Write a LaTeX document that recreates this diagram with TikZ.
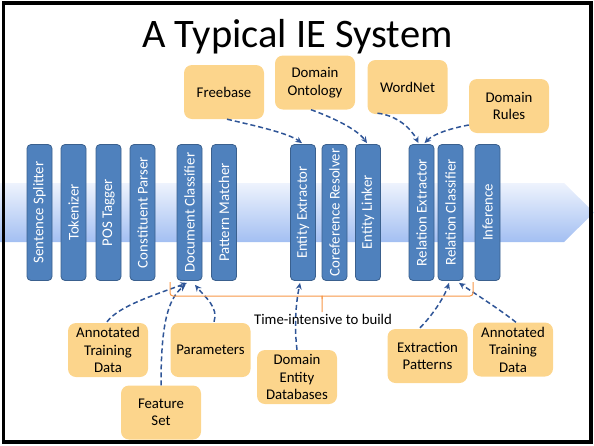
\documentclass[tikz,border=0pt]{standalone}
\usepackage{fontspec}
\setmainfont{Carlito}
\usetikzlibrary{calc,arrows.meta}

\definecolor{stageblue}{RGB}{79,129,189}
\definecolor{stageedge}{RGB}{58,96,142}
\definecolor{resfill}{RGB}{252,213,140}
\definecolor{linkblue}{RGB}{47,85,151}
\definecolor{braceorange}{RGB}{247,150,70}
\definecolor{bandtop}{RGB}{238,243,253}
\definecolor{bandbot}{RGB}{163,191,242}

\begin{document}
\begin{tikzpicture}[x=1pt,y=-1pt,
  stage/.style={draw=stageedge, line width=0.8pt, fill=stageblue, rounded corners=4pt,
    rotate=90, minimum width=136pt, minimum height=25pt, inner sep=0pt,
    text=white, font=\fontsize{14.8}{17}\selectfont},
  resource/.style={fill=resfill, rounded corners=8pt, minimum width=80pt,
    minimum height=54pt, inner sep=0pt, align=center,
    font=\fontsize{14.8}{17.5}\selectfont},
  link/.style={draw=linkblue, line width=1.5pt, dash pattern=on 5pt off 3pt,
    -{Stealth[length=6.5pt,width=6pt]}},
  bracestyle/.style={draw=braceorange, line width=1pt, rounded corners=3pt},
]
\useasboundingbox (0,0) rectangle (594,445);

% pipeline band with arrow head
\shade[top color=bandtop, bottom color=bandbot]
  (0,183) -- (564,183) -- (594,212.5) -- (564,242) -- (0,242) -- cycle;

% slide frame
\draw[line width=3.5pt] (3.5,3) rectangle (591,442);

% title
\node[font=\fontsize{40.5}{48}\selectfont, anchor=base] (title) at (297.5,47) {A Typical IE System};

% processing stages
\node[stage] (ss)  at (39.5,212.5)  {Sentence Splitter};
\node[stage] (tok) at (73.5,212.5)  {Tokenizer};
\node[stage] (pos) at (108.5,212.5) {POS Tagger};
\node[stage] (cp)  at (142.5,212.5) {Constituent Parser};
\node[stage] (dc)  at (189.5,212.5) {Document Classifier};
\node[stage] (pm)  at (224,212.5)   {Pattern Matcher};
\node[stage] (ee)  at (303,212.5)   {Entity Extractor};
\node[stage] (cr)  at (334.5,212.5) {Coreference Resolver};
\node[stage] (el)  at (368,212.5)   {Entity Linker};
\node[stage] (re)  at (421.5,212.5) {Relation Extractor};
\node[stage] (rc)  at (450.5,212.5) {Relation Classifier};
\node[stage] (inf) at (487.5,212.5) {Inference};

% external resources
\node[resource] (fb)    at (224,92)    {Freebase};
\node[resource] (onto)  at (315,82.5)  {Domain\\Ontology};
\node[resource] (wn)    at (407.5,87)  {WordNet};
\node[resource] (rules) at (509,106)   {Domain\\Rules};
\node[resource] (atda)  at (108,350)   {Annotated\\Training\\Data};
\node[resource] (par)   at (210.5,350) {Parameters};
\node[resource] (feat)  at (161,412.5) {Feature\\Set};
\node[resource] (ded)   at (297,377)   {Domain\\Entity\\Databases};
\node[resource] (ep)    at (427.5,356) {Extraction\\Patterns};
\node[resource] (atdb)  at (513,349.5) {Annotated\\Training\\Data};

% resources feeding the stages from above
\draw[link] ($(fb.south)+(3,0)$) .. controls +(30,7) and +(-14,-10) .. ($(ee.east)+(-1,-1)$);
\draw[link] ($(onto.south)+(-4,0)$) .. controls +(22,8) and +(-10,-14) .. ($(el.east)+(-1,-1)$);
\draw[link] ($(wn.south)+(-30,-1)$) .. controls +(18,2) and +(-8,-16) .. ($(re.east)+(-3,-1)$);
\draw[link] ($(rules.west)+(0,19)$) .. controls +(-16,3) and +(10,-10) .. ($(re.east)+(3,-1)$);

% resources feeding the stages from below
\draw[link] ($(atda.north)+(-1,-1)$) .. controls +(12,-16) and +(-32,12) .. ($(dc.west)+(-2.5,2)$);
\draw[link] (feat.north) .. controls +(0,-56) and +(-19,15) .. ($(dc.west)+(-4,4)$);
\draw[link] ($(par.north)+(3.5,-1)$) .. controls +(5,-14) and +(10,12) .. ($(dc.west)+(5.5,4)$);
\draw[link] (ded.north) .. controls +(-3,-25) and +(-4,20) .. ($(ee.west)+(-3,2)$);
\draw[link] ($(ep.north)+(-7.5,-1)$) .. controls +(12,-12) and +(-5,15) .. ($(rc.west)+(-1.5,2)$);
\draw[link] ($(atdb.north)+(3,0)$) .. controls +(-15,-12) and +(12,8) .. ($(rc.west)+(8.5,2)$);

% bracket marking the stages that take long to build
\coordinate (bl) at (170,282);
\coordinate (br) at (473,282);
\coordinate (bm) at (322,312);
\draw[bracestyle] (bl) -- (170,296) -- (319,296) .. controls (322,296) .. (322,299) -- (bm);
\draw[bracestyle] (br) -- (473,296) -- (325,296) .. controls (322,296) .. (322,299);
\node[font=\fontsize{14.8}{17}\selectfont] (tib) at (323,319) {Time-intensive to build};

\end{tikzpicture}
\end{document}
